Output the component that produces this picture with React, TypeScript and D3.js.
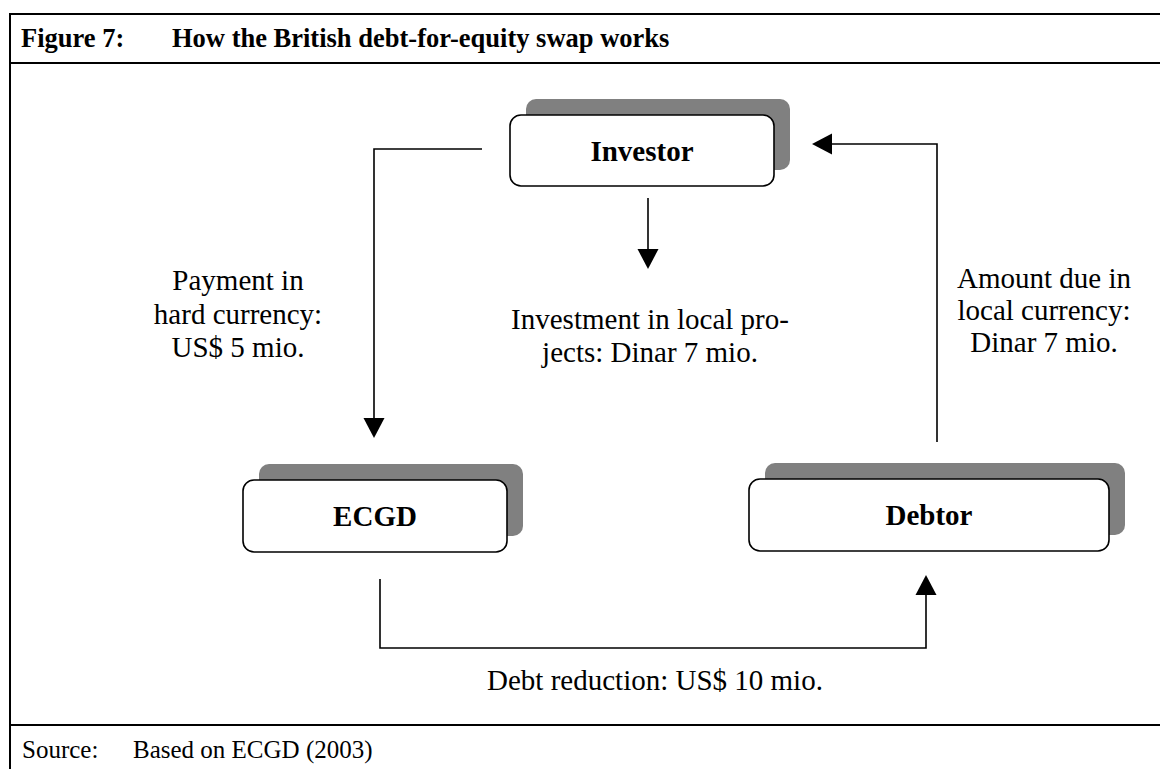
import React from "react";
import * as d3 from "d3";

// ---- content ----
const figureNumber = "Figure 7:";
const figureTitle = "How the British debt-for-equity swap works";
const nodeNames = ["Investor", "ECGD", "Debtor"];
const flowLabels = [
  ["Payment in", "hard currency:", "US$ 5 mio."],
  ["Investment in local pro-", "jects: Dinar 7 mio."],
  ["Amount due in", "local currency:", "Dinar 7 mio."],
  ["Debt reduction: US$ 10 mio."],
];
const sourceLabel = "Source:";
const sourceText = "Based on ECGD (2003)";

// ---- layout (pixel geometry) ----
const W = 1160;
const H = 769;
const FONT = "'Liberation Serif', 'Times New Roman', Times, serif";
const boxes = [
  { x: 510, y: 115, w: 264, h: 71 },
  { x: 243, y: 480, w: 264, h: 72 },
  { x: 749, y: 479, w: 360, h: 72 },
];
const shadowOffset = 16;
// connector polylines (last point = arrow tip)
const connectors: [number, number][][] = [
  [[482, 149], [374, 149], [374, 438]],
  [[648, 198], [648, 269]],
  [[937, 442], [937, 144], [812, 144]],
  [[380, 579], [380, 648], [926, 648], [926, 575]],
];
const labelPos = [
  { x: 238, y: 290, lh: 33.5 },
  { x: 650, y: 329, lh: 33 },
  { x: 1044, y: 288, lh: 32 },
  { x: 655, y: 690, lh: 33 },
];

const lineGen = d3.line<[number, number]>().x((d) => d[0]).y((d) => d[1]);

function arrowHead(pts: [number, number][], len = 20, half = 10.5) {
  const [x1, y1] = pts[pts.length - 2];
  const [x2, y2] = pts[pts.length - 1];
  const a = Math.atan2(y2 - y1, x2 - x1);
  const bx = x2 - len * Math.cos(a);
  const by = y2 - len * Math.sin(a);
  const nx = -Math.sin(a) * half;
  const ny = Math.cos(a) * half;
  const p = d3.path();
  p.moveTo(x2, y2);
  p.lineTo(bx + nx, by + ny);
  p.lineTo(bx - nx, by - ny);
  p.closePath();
  return { head: p.toString(), base: [bx, by] as [number, number] };
}

const serif = { fontFamily: FONT };

export default function App() {
  return (
    <svg
      width={W}
      height={H}
      viewBox={`0 0 ${W} ${H}`}
      style={{ position: "absolute", left: 0, top: 0, background: "#fff", fontFamily: FONT }}
    >
      <rect x={0} y={0} width={W} height={H} fill="#fff" />
      {/* frame */}
      <line x1={9} x2={W} y1={14} y2={14} stroke="#000" strokeWidth={2.2} />
      <line x1={9} x2={W} y1={63} y2={63} stroke="#000" strokeWidth={2.2} />
      <line x1={9} x2={W} y1={725} y2={725} stroke="#000" strokeWidth={2.2} />
      <line x1={10} x2={10} y1={13} y2={H} stroke="#000" strokeWidth={2} />

      {/* title */}
      <text x={21} y={47} style={serif} fontWeight="bold" fontSize={26.5} fill="#000">
        {figureNumber}
      </text>
      <text x={172} y={47} style={serif} fontWeight="bold" fontSize={26.5} fill="#000">
        {figureTitle}
      </text>

      {/* boxes */}
      {nodeNames.map((name, i) => {
        const b = boxes[i];
        return (
          <g key={name}>
            <rect
              x={b.x + shadowOffset}
              y={b.y - shadowOffset}
              width={b.w}
              height={b.h}
              rx={10}
              fill="#808080"
            />
            <rect
              x={b.x}
              y={b.y}
              width={b.w}
              height={b.h}
              rx={11}
              fill="#fff"
              stroke="#000"
              strokeWidth={1.6}
            />
            <text
              x={b.x + b.w / 2}
              y={b.y + b.h / 2 + 10}
              textAnchor="middle"
              style={serif}
              fontWeight="bold"
              fontSize={29}
              fill="#000"
            >
              {name}
            </text>
          </g>
        );
      })}

      {/* connectors */}
      {connectors.map((pts, i) => {
        const { head, base } = arrowHead(pts);
        const shaft = [...pts.slice(0, -1), base] as [number, number][];
        return (
          <g key={i}>
            <path d={lineGen(shaft) || ""} fill="none" stroke="#000" strokeWidth={1.6} />
            <path d={head} fill="#000" />
          </g>
        );
      })}

      {/* flow labels */}
      {flowLabels.map((lines, i) => {
        const p = labelPos[i];
        return (
          <g key={i}>
            {lines.map((l, j) => (
              <text
                key={j}
                x={p.x}
                y={p.y + j * p.lh}
                textAnchor="middle"
                style={serif}
                fontSize={29}
                fill="#000"
              >
                {l}
              </text>
            ))}
          </g>
        );
      })}

      {/* source */}
      <text x={22} y={758} style={serif} fontSize={25} fill="#000">
        {sourceLabel}
      </text>
      <text x={133} y={758} style={serif} fontSize={25} fill="#000">
        {sourceText}
      </text>
    </svg>
  );
}
